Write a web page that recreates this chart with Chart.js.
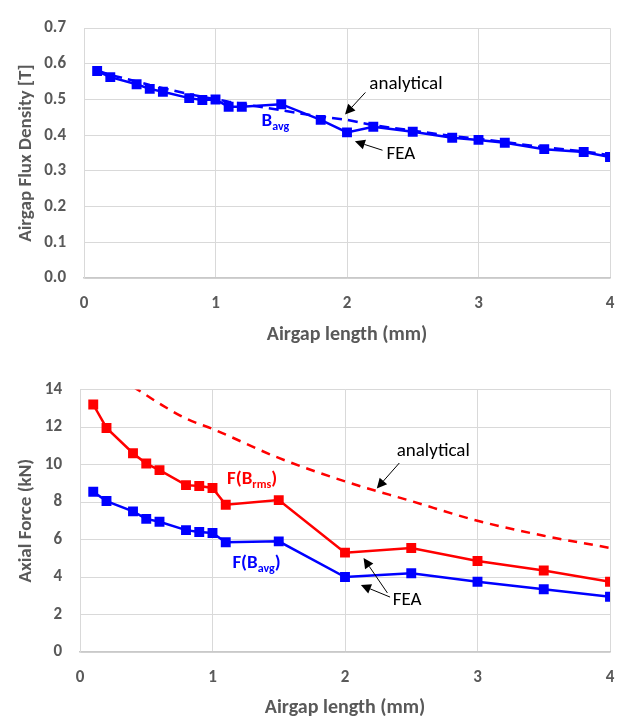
<!DOCTYPE html>
<html>
<head>
<meta charset="utf-8">
<script src="https://cdn.jsdelivr.net/npm/chart.js@4"></script>
<style>
  html, body { margin: 0; padding: 0; background: #fff; }
  .box { position: relative; width: 624px; }
  canvas { display: block; }
</style>
</head>
<body>
<div class="box"><canvas id="fluxChart" width="624" height="350"></canvas></div>
<div class="box"><canvas id="forceChart" width="624" height="371"></canvas></div>
<script>
// Flux density vs airgap length
const gapB = [0.1, 0.2, 0.4, 0.5, 0.6, 0.8, 0.9, 1.0, 1.1, 1.2, 1.5, 1.8, 2.0, 2.2, 2.5, 2.8, 3.0, 3.2, 3.5, 3.8, 4.0];
const bFea = [0.580, 0.563, 0.543, 0.530, 0.522, 0.504, 0.499, 0.500, 0.480, 0.480, 0.487, 0.443, 0.408, 0.424, 0.410, 0.393, 0.387, 0.379, 0.361, 0.353, 0.339];
const bAnalytical = [0.582, 0.569, 0.551, 0.541, 0.532, 0.515, 0.508, 0.501, 0.494, 0.488, 0.470, 0.452, 0.443, 0.428, 0.413, 0.398, 0.390, 0.381, 0.366, 0.355, 0.344];
const bTicks = [0, 0.1, 0.2, 0.3, 0.4, 0.5, 0.6, 0.7];

// Axial force vs airgap length
const gapF = [0.1, 0.2, 0.4, 0.5, 0.6, 0.8, 0.9, 1.0, 1.1, 1.5, 2.0, 2.5, 3.0, 3.5, 4.0];
const fRms = [13.2, 11.95, 10.6, 10.05, 9.7, 8.9, 8.85, 8.75, 7.85, 8.1, 5.3, 5.55, 4.85, 4.35, 3.75];
const fAvg = [8.55, 8.05, 7.5, 7.1, 6.95, 6.5, 6.4, 6.35, 5.85, 5.9, 4.0, 4.2, 3.75, 3.35, 2.95];
const gapAnalytical = [0.4, 0.5, 0.6, 0.8, 1.0, 1.5, 2.0, 2.5, 3.0, 3.5, 4.0];
const fAnalytical = [14.15, 13.7, 13.25, 12.45, 11.9, 10.35, 9.1, 8.05, 7.0, 6.2, 5.55];
const fTicks = [0, 2, 4, 6, 8, 10, 12, 14];

const gapTicks = [0, 1, 2, 3, 4];

const FONT = 'Carlito, Lato, sans-serif';
const AXIS_GREY = '#595959';
const GRID = '#d9d9d9';

const pairs = (xs, ys) => xs.map((x, i) => ({ x: x, y: ys[i] }));

function drawArrow(ctx, x1, y1, x2, y2) {
    const ang = Math.atan2(y2 - y1, x2 - x1);
    const head = 10, half = 5;
    const bx = x2 - head * Math.cos(ang), by = y2 - head * Math.sin(ang);
    ctx.strokeStyle = '#000';
    ctx.fillStyle = '#000';
    ctx.lineWidth = 1;
    ctx.beginPath();
    ctx.moveTo(x1, y1);
    ctx.lineTo(bx, by);
    ctx.stroke();
    ctx.beginPath();
    ctx.moveTo(x2, y2);
    ctx.lineTo(bx + half * Math.sin(ang), by - half * Math.cos(ang));
    ctx.lineTo(bx - half * Math.sin(ang), by + half * Math.cos(ang));
    ctx.closePath();
    ctx.fill();
}

// text with optional subscript pieces, left aligned, vertically centred on y
function drawLabel(ctx, x, y, parts, color, size, weight) {
    ctx.fillStyle = color;
    ctx.textBaseline = 'middle';
    ctx.textAlign = 'left';
    let cx = x;
    parts.forEach(p => {
        const s = p.sub ? Math.round(size * 0.65) : size;
        ctx.font = `${weight} ${s}px ${FONT}`;
        ctx.fillText(p.text, cx, p.sub ? y + size * 0.3 : y);
        cx += ctx.measureText(p.text).width;
    });
}

const notesPlugin = {
    id: 'notes',
    afterDatasetsDraw(chart, args, opts) {
        const { ctx, scales: { x, y } } = chart;
        ctx.save();
        (opts.arrows || []).forEach(a => {
            drawArrow(ctx,
                x.getPixelForValue(a.from[0]), y.getPixelForValue(a.from[1]),
                x.getPixelForValue(a.to[0]), y.getPixelForValue(a.to[1]));
        });
        (opts.labels || []).forEach(l => {
            drawLabel(ctx, x.getPixelForValue(l.at[0]), y.getPixelForValue(l.at[1]),
                l.parts, l.color, l.size, l.weight);
        });
        ctx.restore();
    }
};

function makeOptions(cfg) {
    return {
        responsive: false,
        animation: false,
        layout: { padding: { top: cfg.top, right: 14, left: 0, bottom: 0 } },
        plugins: {
            legend: { display: false },
            tooltip: { enabled: false },
            notes: cfg.notes
        },
        scales: {
            x: {
                type: 'linear',
                min: 0,
                max: 4,
                afterBuildTicks: s => { s.ticks = gapTicks.map(v => ({ value: v })); },
                afterFit: s => {
                    s.height = cfg.xHeight;
                    // edge labels should not push the plot area inwards
                    s.paddingLeft = 0;
                    s.paddingRight = 0;
                },
                grid: { color: GRID, lineWidth: 1, drawTicks: false },
                border: { color: '#c9c9c9', width: 1.5 },
                ticks: {
                    padding: 16,
                    color: AXIS_GREY,
                    font: { family: FONT, size: 17, weight: 'bold' }
                },
                title: {
                    display: true,
                    text: 'Airgap length (mm)',
                    color: AXIS_GREY,
                    font: { family: FONT, size: 20, weight: 'bold' },
                    padding: { top: 0, bottom: cfg.xTitlePad }
                }
            },
            y: {
                min: 0,
                max: cfg.yMax,
                afterBuildTicks: s => { s.ticks = cfg.yTicks.map(v => ({ value: v })); },
                afterFit: s => { s.width = cfg.yWidth; },
                grid: { color: GRID, lineWidth: 1, drawTicks: false },
                border: { color: GRID },
                ticks: {
                    padding: 18,
                    color: AXIS_GREY,
                    font: { family: FONT, size: 17, weight: 'bold' },
                    callback: cfg.tickFormat
                },
                title: {
                    display: true,
                    text: cfg.yTitle,
                    color: AXIS_GREY,
                    font: { family: FONT, size: 19, weight: 'bold' },
                    padding: { top: 15, bottom: 0 }
                }
            }
        }
    };
}

new Chart(document.getElementById('fluxChart'), {
    type: 'line',
    data: {
        datasets: [
            {
                label: 'analytical',
                data: pairs(gapB, bAnalytical),
                borderColor: '#0000ff',
                borderWidth: 2.5,
                borderDash: [10, 6],
                pointRadius: 0,
                tension: 0
            },
            {
                label: 'FEA',
                data: pairs(gapB, bFea),
                borderColor: '#0000ff',
                backgroundColor: '#0000ff',
                borderWidth: 2.5,
                pointStyle: 'rect',
                pointRadius: 7,
                pointBorderWidth: 0,
                tension: 0
            }
        ]
    },
    options: makeOptions({
        top: 14,
        xHeight: 72,
        xTitlePad: 3,
        yWidth: 84,
        yMax: 0.7,
        yTicks: bTicks,
        yTitle: 'Airgap Flux Density [T]',
        tickFormat: v => v.toFixed(1),
        notes: {
            arrows: [
                { from: [2.14, 0.52], to: [1.985, 0.458] },
                { from: [2.27, 0.358], to: [2.06, 0.383] }
            ],
            labels: [
                { at: [2.17, 0.543], parts: [{ text: 'analytical' }], color: '#000', size: 19, weight: 'normal' },
                { at: [2.30, 0.347], parts: [{ text: 'FEA' }], color: '#000', size: 19, weight: 'normal' },
                { at: [1.35, 0.438], parts: [{ text: 'B' }, { text: 'avg', sub: true }], color: '#0000ff', size: 19, weight: 'bold' }
            ]
        }
    }),
    plugins: [notesPlugin]
});

new Chart(document.getElementById('forceChart'), {
    type: 'line',
    data: {
        datasets: [
            {
                label: 'analytical',
                data: pairs(gapAnalytical, fAnalytical),
                borderColor: '#ff0000',
                borderWidth: 2.5,
                borderDash: [9, 7],
                pointRadius: 0,
                cubicInterpolationMode: 'monotone',
                clip: 0
            },
            {
                label: 'F(B_rms)',
                data: pairs(gapF, fRms),
                borderColor: '#ff0000',
                backgroundColor: '#ff0000',
                borderWidth: 2.5,
                pointStyle: 'rect',
                pointRadius: 7,
                pointBorderWidth: 0,
                tension: 0
            },
            {
                label: 'F(B_avg)',
                data: pairs(gapF, fAvg),
                borderColor: '#0000ff',
                backgroundColor: '#0000ff',
                borderWidth: 2.5,
                pointStyle: 'rect',
                pointRadius: 7,
                pointBorderWidth: 0,
                tension: 0
            }
        ]
    },
    options: makeOptions({
        top: 39.5,
        xHeight: 69,
        xTitlePad: 1,
        yWidth: 80,
        yMax: 14,
        yTicks: fTicks,
        yTitle: 'Axial Force (kN)',
        tickFormat: v => v,
        notes: {
            arrows: [
                { from: [2.41, 10.08], to: [2.24, 8.72] },
                { from: [2.32, 3.15], to: [2.14, 5.01] },
                { from: [2.34, 2.93], to: [2.12, 3.57] }
            ],
            labels: [
                { at: [2.39, 10.72], parts: [{ text: 'analytical' }], color: '#000', size: 19, weight: 'normal' },
                { at: [2.36, 2.77], parts: [{ text: 'FEA' }], color: '#000', size: 19, weight: 'normal' },
                { at: [1.11, 9.23], parts: [{ text: 'F(B' }, { text: 'rms', sub: true }, { text: ')' }], color: '#ff0000', size: 19, weight: 'bold' },
                { at: [1.15, 4.75], parts: [{ text: 'F(B' }, { text: 'avg', sub: true }, { text: ')' }], color: '#0000ff', size: 19, weight: 'bold' }
            ]
        }
    }),
    plugins: [notesPlugin]
});
</script>
</body>
</html>
